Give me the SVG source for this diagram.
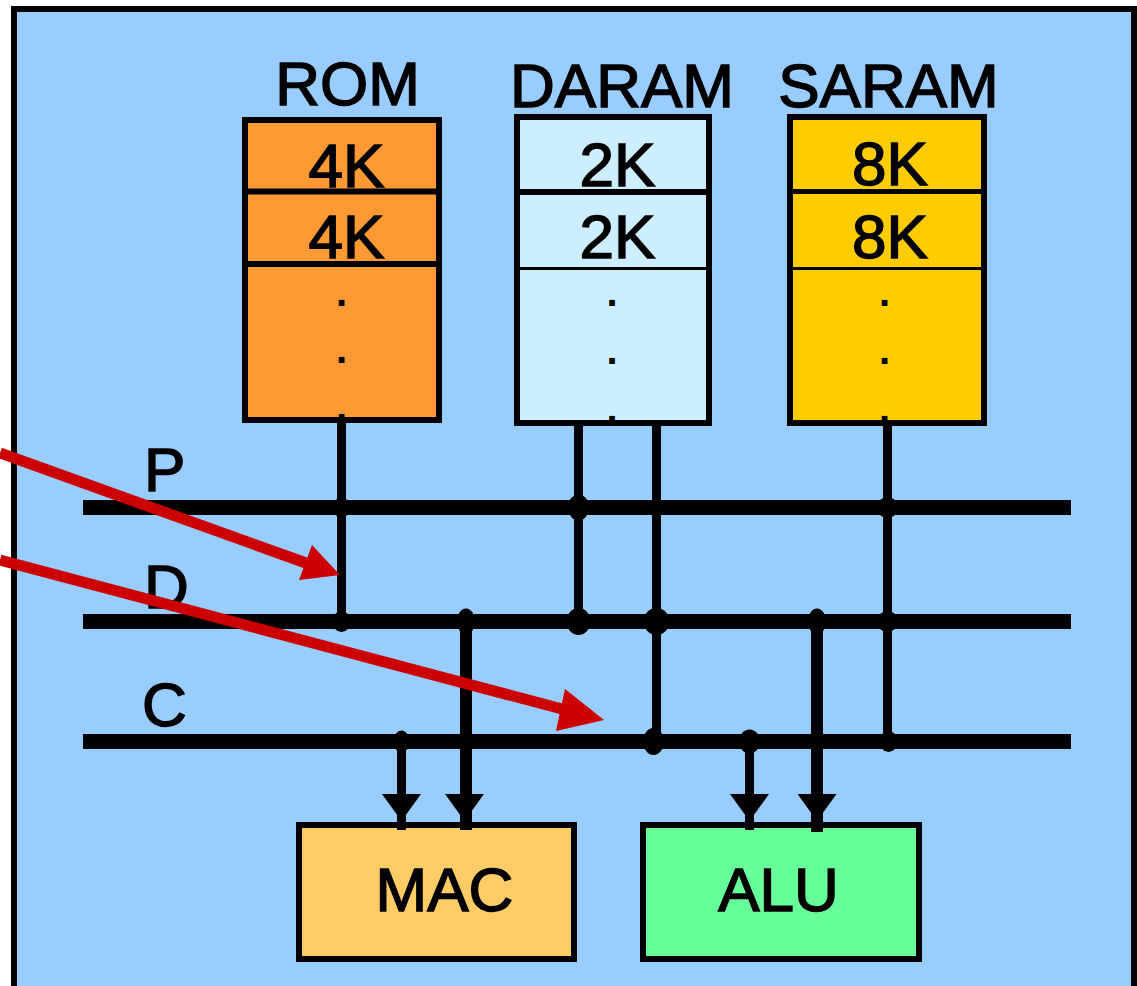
<svg xmlns="http://www.w3.org/2000/svg" width="1137" height="986" viewBox="0 0 1137 986">
<style>
.t{font-family:"Liberation Sans",Arial,sans-serif;font-size:62px;fill:#000;stroke:#000;stroke-width:1.5;text-anchor:middle}
.tl{font-family:"Liberation Sans",Arial,sans-serif;font-size:62px;fill:#000;stroke:#000;stroke-width:1.5}
.dot{font-family:"Liberation Sans",Arial,sans-serif;font-size:40px;font-weight:bold;fill:#000;text-anchor:middle}
.box{stroke:#000;stroke-width:6}
.bus{stroke:#000;stroke-width:15}
.v{stroke:#000;stroke-width:9}
.vw{stroke:#000;stroke-width:12}
.red{stroke:#CC0000;stroke-width:11;fill:none}
</style>
<defs>
<path id="ah" d="M-19.5,0 L19.5,0 L0,27 Z" fill="#000"/>
</defs>
<rect id="frame" x="14" y="9" width="1120" height="1000" fill="#99CCFF" stroke="#000" stroke-width="6"/>

<g id="ROM">
<text class="t" x="347.5" y="105">ROM</text>
<rect class="box" x="245" y="120" width="194" height="300" fill="#FF9933"/>
<line x1="245" y1="191.5" x2="439" y2="191.5" stroke="#000" stroke-width="6"/>
<line x1="245" y1="264" x2="439" y2="264" stroke="#000" stroke-width="6"/>
<text class="t" x="346.5" y="187">4K</text>
<text class="t" x="346.5" y="258">4K</text>
<text class="dot" x="341.5" y="306">.</text>
<text class="dot" x="341.5" y="363">.</text>
<text class="dot" x="341.5" y="420">.</text>
</g>

<g id="DARAM">
<text class="t" x="622" y="107">DARAM</text>
<rect class="box" x="517" y="117" width="192" height="306" fill="#CCEEFF"/>
<line x1="517" y1="192" x2="709" y2="192" stroke="#000" stroke-width="6"/>
<line x1="517" y1="268.5" x2="709" y2="268.5" stroke="#000" stroke-width="3"/>
<text class="t" x="617.5" y="186">2K</text>
<text class="t" x="617.5" y="258">2K</text>
<text class="dot" x="612" y="306">.</text>
<text class="dot" x="612" y="364">.</text>
<text class="dot" x="612" y="422">.</text>
</g>

<g id="SARAM">
<text class="t" x="888.5" y="107">SARAM</text>
<rect class="box" x="790" y="117" width="194" height="306" fill="#FFCC00"/>
<line x1="790" y1="191.5" x2="984" y2="191.5" stroke="#000" stroke-width="5"/>
<line x1="790" y1="268.5" x2="984" y2="268.5" stroke="#000" stroke-width="3"/>
<text class="t" x="890" y="185">8K</text>
<text class="t" x="890" y="258">8K</text>
<text class="dot" x="884.5" y="306">.</text>
<text class="dot" x="884.5" y="364">.</text>
<text class="dot" x="884.5" y="422">.</text>
</g>

<g id="bus-labels">
<text class="tl" x="144" y="491">P</text>
<text class="tl" x="144" y="608">D</text>
<text class="tl" x="142" y="726">C</text>
</g>

<g id="MAC">
<rect class="box" x="299" y="825" width="275" height="134" fill="#FFCC66"/>
<text class="t" x="444.5" y="911">MAC</text>
</g>

<g id="ALU">
<rect class="box" x="643" y="825" width="276" height="134" fill="#66FF99"/>
<text class="t" x="778.5" y="911">ALU</text>
</g>

<g id="connectors">
<line class="bus" x1="83" y1="507.5" x2="1071" y2="507.5"/>
<line class="bus" x1="83" y1="621.5" x2="1071" y2="621.5"/>
<line class="bus" x1="83" y1="741.5" x2="1071" y2="741.5"/>
<line class="v" x1="341.5" y1="423" x2="341.5" y2="621.5"/>
<line class="v" x1="578.5" y1="426" x2="578.5" y2="621.5"/>
<line class="v" x1="656.5" y1="426" x2="656.5" y2="741.5"/>
<line class="v" x1="887.5" y1="426" x2="887.5" y2="741.5"/>
<line class="v" x1="401.5" y1="741.5" x2="401.5" y2="830"/>
<line class="vw" x1="466" y1="621.5" x2="466" y2="830"/>
<line class="v" x1="749.5" y1="741.5" x2="749.5" y2="830"/>
<line class="vw" x1="817" y1="621.5" x2="817" y2="832"/>
<use href="#ah" x="401.5" y="794"/>
<use href="#ah" x="464.5" y="794"/>
<use href="#ah" x="749.5" y="794"/>
<use href="#ah" x="817" y="794"/>
<g fill="#000">
<ellipse cx="341.5" cy="507.5" rx="8" ry="10.5"/>
<ellipse cx="578.5" cy="507.5" rx="10.5" ry="13"/>
<ellipse cx="887.5" cy="507.5" rx="10.5" ry="10.5"/>
<ellipse cx="341.5" cy="621.5" rx="9" ry="10.5"/>
<ellipse cx="466" cy="621.5" rx="9" ry="13"/>
<ellipse cx="578.5" cy="621.5" rx="12" ry="13.5"/>
<ellipse cx="656.5" cy="621.5" rx="13" ry="13.5"/>
<ellipse cx="817" cy="621.5" rx="9" ry="13"/>
<ellipse cx="887.5" cy="621.5" rx="10.5" ry="10.5"/>
<ellipse cx="401.5" cy="741.5" rx="8" ry="11"/>
<ellipse cx="653.5" cy="741.5" rx="10.5" ry="13.5"/>
<ellipse cx="749.5" cy="741.5" rx="10.5" ry="12"/>
<ellipse cx="888.5" cy="741.5" rx="9" ry="10.5"/>
</g>
<line class="red" x1="0" y1="453" x2="306" y2="563"/>
<polygon fill="#CC0000" points="340,575 312,545 299,580"/>
<line class="red" x1="0" y1="560" x2="562" y2="709"/>
<polygon fill="#CC0000" points="604,720 565,689 556,731"/>
</g>
</svg>
